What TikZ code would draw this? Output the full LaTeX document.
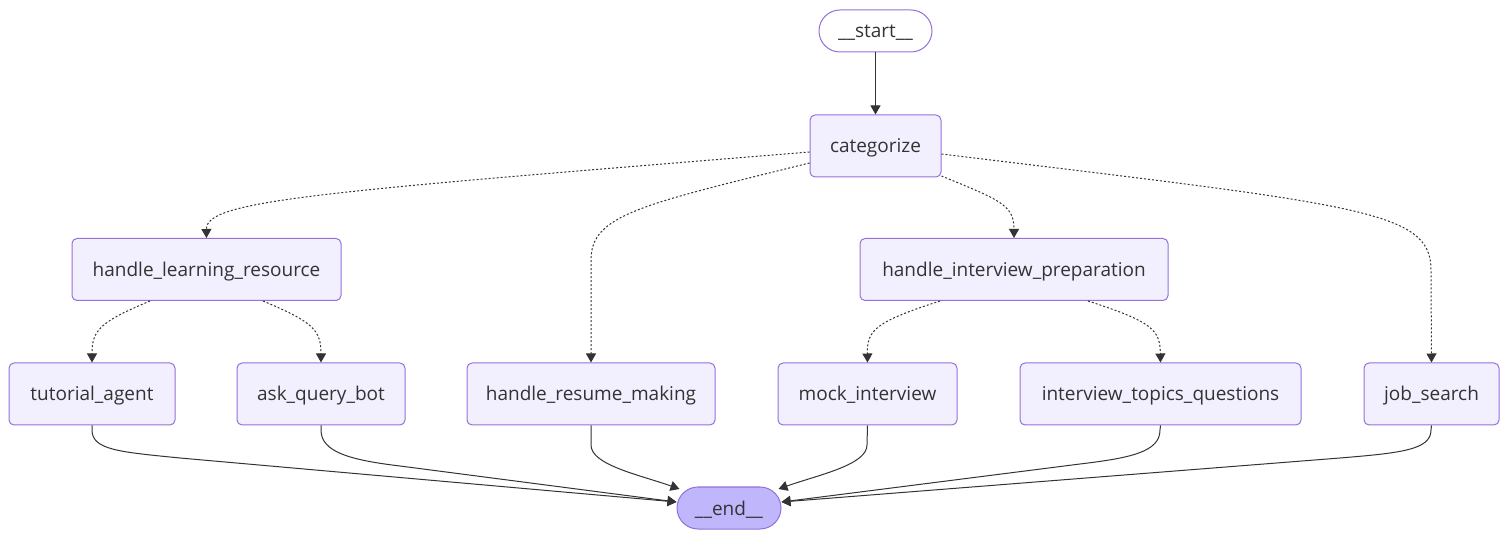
\documentclass[tikz,border=0pt]{standalone}
\usepackage{fontspec}
\setmainfont{Open Sans}
\usetikzlibrary{arrows.meta,calc}
\definecolor{nodefill}{HTML}{F2F0FF}
\definecolor{nodeline}{HTML}{9370DB}
\definecolor{endfill}{HTML}{BFB6FC}
\definecolor{ink}{HTML}{333333}
\tikzset{
  box/.style={draw=nodeline, fill=nodefill, line width=1pt, rounded corners=5pt,
    minimum height=62pt, inner sep=0pt, text=ink, text height=14pt, text depth=0pt,
    font=\fontsize{19}{22}\selectfont},
  pill/.style={box, rounded corners=21pt, minimum height=42pt},
  edge/.style={draw=ink, line width=1pt, -{Triangle[length=9pt,width=10pt]}},
  cond/.style={edge, dash pattern=on 2pt off 2pt}
}
\begin{document}
\begin{tikzpicture}[x=1pt,y=-1pt]
\useasboundingbox (0,0) rectangle (1508,534);
\node[pill, fill=white, minimum width=113pt] (start) at (875.5,31) {\_\_start\_\_};
\node[box, minimum width=131pt] (cat) at (875.5,146) {categorize};
\node[box, minimum width=269pt] (hlr) at (206.5,269.5) {handle\_learning\_resource};
\node[box, minimum width=308pt] (hip) at (1014,269.5) {handle\_interview\_preparation};
\node[box, minimum width=166pt] (ta) at (92,394) {tutorial\_agent};
\node[box, minimum width=168pt] (aqb) at (321,394) {ask\_query\_bot};
\node[box, minimum width=248pt] (hrm) at (591,394) {handle\_resume\_making};
\node[box, minimum width=179pt] (mock) at (867.5,394) {mock\_interview};
\node[box, minimum width=281pt] (itq) at (1160.5,394) {interview\_topics\_questions};
\node[box, minimum width=135pt] (job) at (1431.5,394) {job\_search};
\node[pill, fill=endfill, minimum width=104pt] (end) at (729,508) {\_\_end\_\_};

\draw[edge] (start) -- (cat);

\draw[cond] ($(cat.west)+(0,6)$) .. controls (320,192) and (206,200) .. (hlr.north);
\draw[cond] ($(cat.west)+(0,17)$) .. controls (640,205) and (591,215) .. (591,260) -- (hrm.north);
\draw[cond] ($(cat.east)+(0,30)$) .. controls (1000,200) and (1014,205) .. (hip.north);
\draw[cond] ($(cat.east)+(0,8)$) .. controls (1360,205) and (1431,210) .. (1431,270) -- (job.north);

\draw[cond] ($(hlr.south)+(-56.5,0)$) .. controls (100,322) and (92,330) .. (ta.north);
\draw[cond] ($(hlr.south)+(56.5,0)$) .. controls (313,322) and (321,330) .. (aqb.north);
\draw[cond] ($(hip.south)+(-74,0)$) .. controls (875,322) and (867,330) .. (mock.north);
\draw[cond] ($(hip.south)+(74,0)$) .. controls (1153,322) and (1160,330) .. (itq.north);

\coordinate (endL) at ($(end.west)+(0,-6)$);
\coordinate (endLU) at ($(end.west)+(3,-19)$);
\coordinate (endR) at ($(end.east)+(0,-6)$);
\coordinate (endRU) at ($(end.east)+(-3,-19)$);
\draw[edge] (ta.south) -- (92,430) .. controls (92,450) and (120,452) .. (180,458) -- (endL);
\draw[edge] (aqb.south) -- (321,430) .. controls (321,452) and (350,460) .. (400,466) -- (endL);
\draw[edge] (hrm.south) -- (591,445) .. controls (591,465) and (640,475) .. (endLU);
\draw[edge] (mock.south) -- (867,445) .. controls (867,465) and (818,475) .. (endRU);
\draw[edge] (itq.south) -- (1160,430) .. controls (1160,452) and (1130,458) .. (1080,464) -- (endR);
\draw[edge] (job.south) -- (1431,430) .. controls (1431,450) and (1400,453) .. (1340,458) -- (endR);
\end{tikzpicture}
\end{document}
